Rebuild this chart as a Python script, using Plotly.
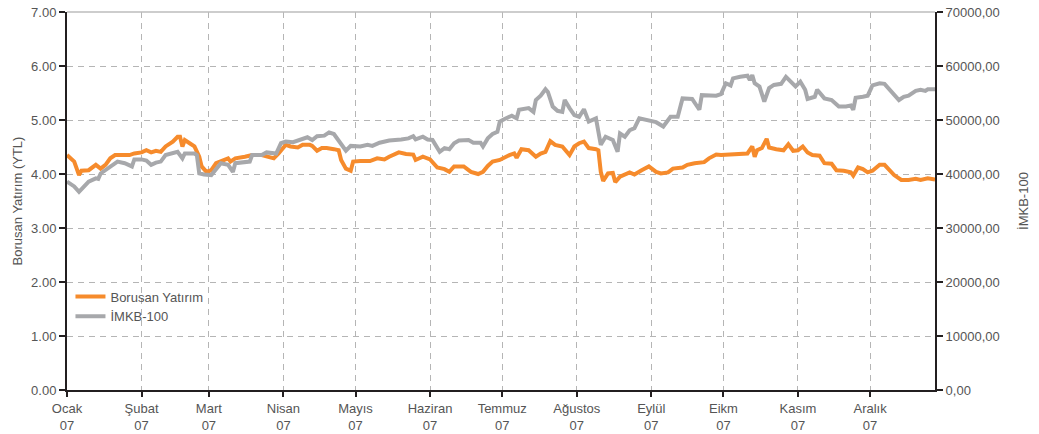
import pandas as pd
import plotly.graph_objects as go

# ---- data (day offsets from 2007-01-01) ----
bor_days = [0, 3, 5, 6, 9, 12, 14, 16, 18, 20, 23, 26, 28, 31, 33, 35, 37, 39, 41, 44, 46, 47, 48, 49,
            51, 53, 55, 56, 58, 60, 62, 65, 67, 68, 70, 74, 77, 81, 84, 86, 88,
            91, 93, 96, 98, 101, 102, 104, 106, 108, 111, 113, 114, 116, 118, 119, 122, 126, 129, 132,
            134, 138, 141, 144, 145, 148, 151, 154, 157, 159, 161, 165, 168, 171, 173, 175, 177, 180,
            184, 186, 187, 189, 192, 194, 195, 197, 199, 201, 203, 206, 209, 211, 213, 215, 217, 220,
            221, 222, 223, 225, 227, 228, 230, 234, 236, 239, 242, 245, 247, 250, 252, 256, 258, 261,
            265, 267, 270, 272, 275, 278, 281, 283, 285, 286, 287, 289, 291, 292, 295, 298, 300, 302,
            304, 306, 308, 310, 313, 315, 318, 320, 323, 326, 327, 329, 331, 333, 335, 338, 340, 342,
            344, 347, 350, 353, 355, 358, 361]
bor_vals = [4.35, 4.23, 3.98, 4.06, 4.07, 4.17, 4.10, 4.17, 4.29, 4.35, 4.35, 4.35, 4.38, 4.40, 4.44,
            4.40, 4.43, 4.41, 4.51, 4.60, 4.69, 4.69, 4.51, 4.63, 4.57, 4.51, 4.32, 4.14, 4.04, 4.07,
            4.20, 4.26, 4.29, 4.23, 4.29, 4.32, 4.35, 4.35, 4.32, 4.29, 4.38,
            4.54, 4.51, 4.49, 4.54, 4.54, 4.52, 4.43, 4.48, 4.48, 4.46, 4.44, 4.26, 4.10, 4.06, 4.23,
            4.24, 4.24, 4.29, 4.27, 4.32, 4.40, 4.37, 4.36, 4.26, 4.32, 4.27, 4.12, 4.09, 4.04, 4.14,
            4.14, 4.04, 4.00, 4.04, 4.15, 4.23, 4.26,
            4.35, 4.38, 4.30, 4.46, 4.44, 4.36, 4.32, 4.38, 4.41, 4.61, 4.54, 4.51, 4.35, 4.51, 4.57,
            4.60, 4.48, 4.46, 4.44, 4.04, 3.87, 4.01, 4.02, 3.85, 3.95, 4.03, 3.99, 4.07, 4.14, 4.04,
            4.01, 4.03, 4.10, 4.12, 4.17, 4.20, 4.22, 4.29, 4.36, 4.35, 4.36, 4.38, 4.38, 4.38, 4.51,
            4.32, 4.44, 4.48, 4.65, 4.49, 4.46, 4.44, 4.55, 4.43, 4.44, 4.51, 4.40, 4.35, 4.34, 4.20,
            4.19, 4.07, 4.06, 4.03, 3.97, 4.12, 4.09, 4.03, 4.06, 4.17, 4.17, 4.07, 3.98, 3.89, 3.89,
            3.91, 3.89, 3.92, 3.90]

imkb_days = [0, 3, 5, 7, 9, 12, 13, 14, 16, 19, 21, 24, 27, 28, 31, 33, 35, 37, 39, 41, 44, 46, 48, 49,
             53, 54, 55, 57, 60, 62, 64, 67, 69, 70, 74, 76, 77, 81, 83, 87, 89,
             91, 94, 97, 100, 102, 104, 107, 109, 111, 114, 116, 118, 122, 125, 127, 130, 134, 139,
             142, 144, 145, 148, 150, 152, 155, 157, 159, 161, 163, 167, 169, 172, 173, 175, 177, 179,
             180, 182, 185, 187, 188, 192, 194, 195, 197, 199, 200, 202, 204, 206, 207, 209, 211, 213,
             215, 217, 220, 222, 224, 227, 229, 230, 232, 234, 236, 238, 242, 245, 248, 251, 254, 256,
             260, 263, 264, 267, 270, 272, 274, 276, 277, 280, 283, 284, 285, 286, 288, 290, 292, 294,
             297, 299, 301, 303, 305, 307, 308, 311, 312, 315, 318, 321, 324, 326, 327, 328, 331, 333,
             335, 338, 340, 343, 346, 348, 350, 353, 355, 357, 358, 361]
imkb_vals = [38600, 37700, 36700, 37700, 38600, 39200, 39100, 40100, 40700, 41700, 42300, 42000, 41400,
             42700, 42700, 42500, 41700, 42100, 42300, 43500, 43800, 44100, 42900, 43800, 43800, 43500,
             40100, 39900, 39800, 41000, 42000, 41700, 40400, 42000, 42100, 42300, 43500, 43500, 44000,
             43800, 45700,
             46000, 45900, 46300, 46800, 46300, 47000, 47100, 47700, 47400, 45700, 44300, 45200, 45100,
             45400, 45200, 45800, 46200, 46400, 46600, 47000, 46400, 46900, 46400, 46300, 44100, 44800,
             44600, 45700, 46200, 46300, 45800, 45800, 45100, 46600, 47400, 47800,
             49700, 50200, 50800, 50300, 51900, 52200, 51500, 53700, 54500, 55700, 55200, 52500, 51700,
             51500, 53700, 52200, 50900, 50600, 52000, 49700, 50300, 45400, 46900, 46300, 44100, 47500,
             46900, 48100, 48500, 50300, 50000, 49600, 48800, 50600, 50600, 54000, 53900, 51900, 54600,
             54600, 54500, 54800, 56800, 56400, 57700, 58000, 58200, 57400, 58300, 56800, 56200, 53400,
             55900, 56500, 56700, 58000, 57000, 56200, 57100, 55600, 53900, 54300, 55600, 54000, 53700,
             52500, 52500, 52700, 51900, 54100, 54300, 54500, 56400, 56800, 56700, 55200, 53700, 54300,
             54500, 55400, 55600, 55400, 55700, 55700]

left_ticks = [0, 1, 2, 3, 4, 5, 6, 7]
left_labels = ["0.00", "1.00", "2.00", "3.00", "4.00", "5.00", "6.00", "7.00"]
right_ticks = [0, 10000, 20000, 30000, 40000, 50000, 60000, 70000]
right_labels = ["0,00", "10000,00", "20000,00", "30000,00", "40000,00", "50000,00", "60000,00", "70000,00"]
month_starts = ["2007-01-01", "2007-02-01", "2007-03-01", "2007-04-01", "2007-05-01", "2007-06-01",
                "2007-07-01", "2007-08-01", "2007-09-01", "2007-10-01", "2007-11-01", "2007-12-01"]
month_labels = ["Ocak<br>07", "Şubat<br>07", "Mart<br>07", "Nisan<br>07", "Mayıs<br>07", "Haziran<br>07",
                "Temmuz<br>07", "Ağustos<br>07", "Eylül<br>07", "Eikm<br>07", "Kasım<br>07", "Aralık<br>07"]

base = pd.Timestamp("2007-01-01")
bor_x = base + pd.to_timedelta(bor_days, unit="D")
imkb_x = base + pd.to_timedelta(imkb_days, unit="D")

ORANGE = "#F68B2C"
GREY = "#A7A8AB"
TXT = "#555555"
AX = "#231F20"
FONT = "Liberation Sans, Arial, sans-serif"

fig = go.Figure()
fig.add_trace(go.Scatter(x=bor_x, y=bor_vals, mode="lines", name="Borusan Yatırım",
                         line=dict(color=ORANGE, width=4), yaxis="y"))
fig.add_trace(go.Scatter(x=imkb_x, y=imkb_vals, mode="lines", name="İMKB-100",
                         line=dict(color=GREY, width=4), yaxis="y2"))

fig.update_layout(
    width=1039, height=434,
    margin=dict(l=67, r=104, t=12, b=44, autoexpand=False),
    paper_bgcolor="white", plot_bgcolor="white",
    font=dict(family=FONT, size=13, color=TXT),
    showlegend=True,
    legend=dict(x=0.004, y=0.287, xanchor="left", yanchor="top", bgcolor="rgba(0,0,0,0)",
                font=dict(size=13, color=TXT), tracegroupgap=0, itemwidth=30),
    xaxis=dict(
        type="date", range=["2007-01-01", "2007-12-28"],
        tickvals=month_starts, ticktext=month_labels,
        showgrid=True, gridcolor="#B5B5B5", griddash="6px,5px", gridwidth=1,
        showline=True, linecolor=AX, linewidth=2,
        ticks="outside", ticklen=5, tickcolor=AX, tickwidth=1.5,
        tickfont=dict(size=13, color=TXT), zeroline=False, automargin=False,
    ),
    yaxis=dict(
        range=[0, 7], tickvals=left_ticks, ticktext=left_labels,
        showgrid=True, gridcolor="#B5B5B5", griddash="6px,5px", gridwidth=1,
        showline=True, linecolor=AX, linewidth=2,
        ticks="outside", ticklen=6, tickcolor=AX, tickwidth=1.5,
        tickfont=dict(size=13, color=TXT), zeroline=False, automargin=False,
        title=dict(text="Borusan Yatırım (YTL)", font=dict(size=13, color=TXT), standoff=6),
    ),
    yaxis2=dict(
        range=[0, 70000], tickvals=right_ticks, ticktext=right_labels,
        overlaying="y", side="right", showgrid=False,
        showline=True, linecolor=AX, linewidth=2,
        ticks="outside", ticklen=6, tickcolor=AX, tickwidth=1.5,
        tickfont=dict(size=13, color=TXT), zeroline=False, automargin=False,
        title=dict(text="İMKB-100", font=dict(size=13, color=TXT), standoff=20),
    ),
)
fig.add_shape(type="line", xref="paper", yref="paper", x0=0, x1=1, y0=1, y1=1,
              line=dict(color="#BDBDBD", width=1.5))

fig.write_html(
    "out.html",
    config={"displayModeBar": False},
    post_script="document.body.style.margin='0';document.body.style.overflow='hidden';",
)
